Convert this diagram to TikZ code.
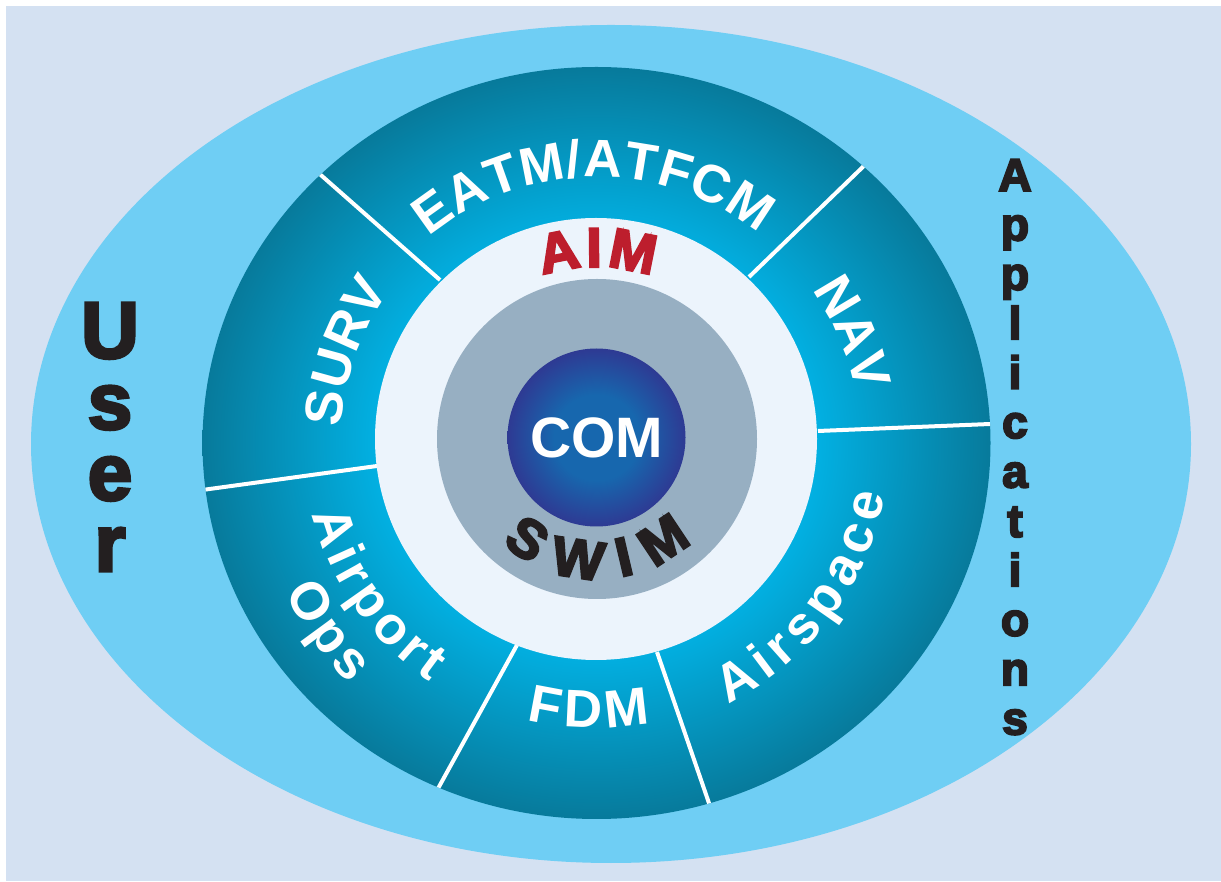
\documentclass[tikz,border=0pt]{standalone}
\usepackage{fontspec}
\setmainfont{Liberation Sans}
\newfontfamily\boldsans{Liberation Sans Bold}
\usetikzlibrary{decorations.text}

% outlined glyphs (fill + stroke) give the black-weight look
\newcommand\thickglyphs[1]{\special{pdf:literal direct 2 Tr #1 w}}

\definecolor{bgblue}{HTML}{D4E1F2}
\definecolor{skyblue}{HTML}{6FCEF4}
\definecolor{ringlight}{HTML}{02B0E2}
\definecolor{ringdark}{HTML}{077A9B}
\definecolor{paleblue}{HTML}{ECF4FC}
\definecolor{slate}{HTML}{97AFC2}
\definecolor{comcenter}{HTML}{1767AE}
\definecolor{comedge}{HTML}{2E3A93}
\definecolor{aimred}{HTML}{BD1E2D}
\definecolor{ink}{HTML}{231F20}

\pgfdeclareradialshading{ringshade}{\pgfpoint{0bp}{0bp}}{%
  color(0bp)=(ringlight); color(14bp)=(ringlight); color(25bp)=(ringdark); color(50bp)=(ringdark)}
\pgfdeclareradialshading{comshade}{\pgfpoint{0bp}{0bp}}{%
  color(0bp)=(comcenter); color(12bp)=(comcenter); color(25bp)=(comedge); color(50bp)=(comedge)}

\newcommand\ringfont{\boldsans\fontsize{53}{60}\selectfont\color{white}}
\newcommand\aimfont{\boldsans\fontsize{56}{60}\selectfont\color{aimred}\thickglyphs{2.2}}
\newcommand\swimfont{\boldsans\fontsize{55}{60}\selectfont\color{ink}\thickglyphs{2.2}}

% text set along a circular arc, letters spread to fill the arc
% #1 centre, #2 start angle, #3 end angle, #4 radius, #5 font, #6 text
\newcommand\arclabel[6]{%
  \path[decorate, decoration={text along path, text align=fit to path,
      text={|#5|#6}}]
    ([shift={(#2:#4)}]#1) arc[start angle=#2, end angle=#3, radius=#4];}

\begin{document}
\begin{tikzpicture}[x=1pt, y=1pt,
  sep/.style={draw=white, line width=4pt},
  stack/.style={anchor=base, inner sep=0pt, text=ink},
]
\useasboundingbox (0,0) rectangle (1221,881);
\fill[bgblue] (6,0) rectangle (1221,875);

% outer user/applications ellipse
\fill[skyblue] (611,437) ellipse[x radius=580, y radius=419];

% domain ring
\shade[shading=ringshade] (596.5,438) ellipse[x radius=394, y radius=376];
\begin{scope}
  \clip (596.5,438) ellipse[x radius=394, y radius=376];
  \draw[sep] (440,601) -- (314,712);
  \draw[sep] (749,604) -- (869,720);
  \draw[sep] (818,450) -- (1000,457.4);
  \draw[sep] (657,229) -- (711,72);
  \draw[sep] (517,236) -- (435,87);
  \draw[sep] (377,415) -- (195,390);
\end{scope}

% AIM disc, SWIM disc, COM core
\fill[paleblue] (596,442) circle[radius=221];
\fill[slate] (597,442) circle[radius=160];
\shade[shading=comshade] (596.5,443.5) circle[radius=89];
\node[text=white, font=\boldsans\fontsize{57}{60}\selectfont, inner sep=0pt] (com) at (596.5,443.5) {COM};

\coordinate (ctr) at (596,440);
\coordinate (core) at (596,442);

% ring labels
\arclabel{ctr}{129.3}{51.9}{264}{\ringfont}{EATM/ATFCM}
\arclabel{ctr}{35}{11.2}{264}{\ringfont}{NAV}
\arclabel{ctr}{176.9}{145.8}{255}{\ringfont}{SURV}
\arclabel{ctr}{-63.3}{-10.5}{294}{\ringfont}{Airspace}
\arclabel{ctr}{-103.9}{-79.2}{287}{\ringfont}{FDM}
\arclabel{ctr}{194.4}{235.4}{293}{\ringfont}{Airport}
\arclabel{ctr}{205.9}{224.6}{346}{\ringfont}{Ops}

% inner labels
\arclabel{core}{108.1}{71}{172}{\aimfont}{AIM}
\arclabel{core}{-132}{-47}{140}{\swimfont}{SWIM}

% side labels, one letter per line
\begin{scope}[font=\boldsans\fontsize{80}{80}\selectfont\thickglyphs{3}]
  \node[stack] (u1) at (110,523) {U};
  \node[stack] (u2) at (110,452) {s};
  \node[stack] (u3) at (110,381) {e};
  \node[stack] (u4) at (110,310) {r};
\end{scope}
\begin{scope}[font=\boldsans\fontsize{46}{46}\selectfont\thickglyphs{2}]
  \foreach \ch [count=\i] in {A,p,p,l,i,c,a,t,i,o,n,s}
    \node[stack] (app\i) at (1015,{690-(\i-1)*49.4}) {\ch};
\end{scope}
\end{tikzpicture}
\end{document}
